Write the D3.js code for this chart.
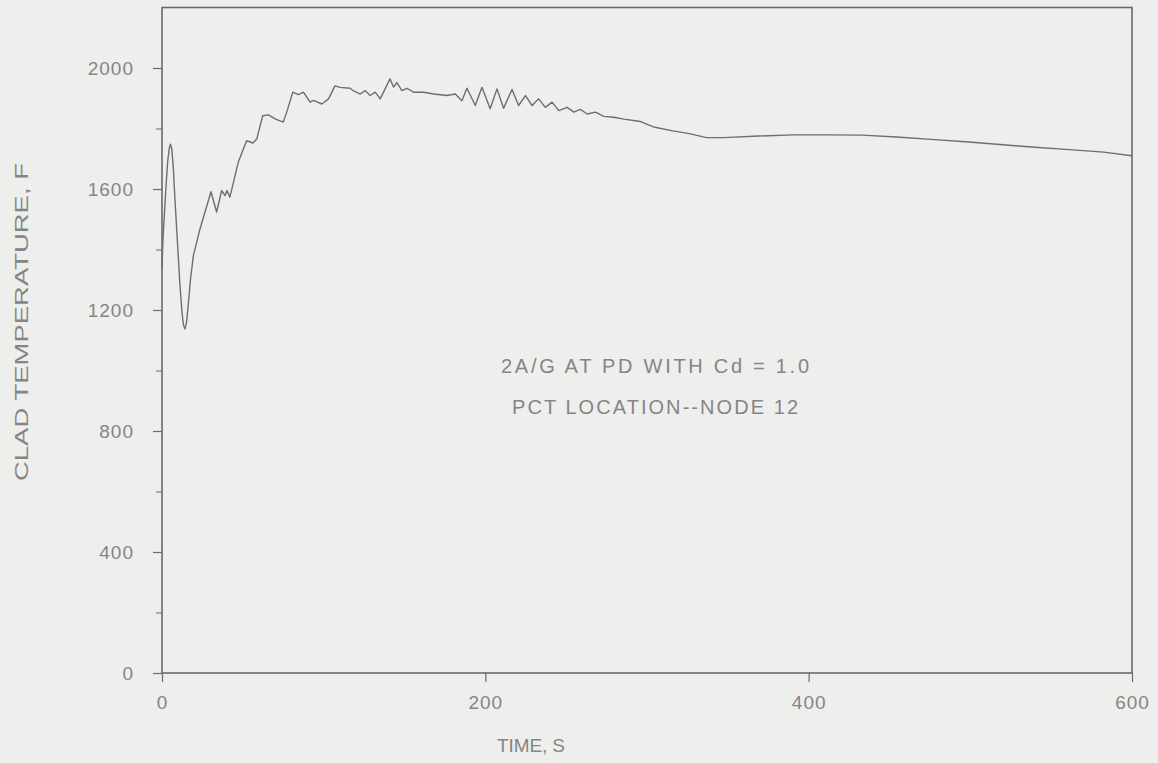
<!DOCTYPE html>
<html>
<head>
<meta charset="utf-8">
<script src="https://cdn.jsdelivr.net/npm/d3@7"></script>
<style>
  html, body { margin: 0; padding: 0; background: #eeeeec; }
  svg { display: block; }
  text { font-family: "Liberation Sans", Arial, Helvetica, sans-serif; fill: #858585; }
</style>
</head>
<body>
<svg id="chart" width="1158" height="763"></svg>
<script>
// Clad temperature history at the peak-cladding-temperature node
const timeS = [0, 0.5, 1.5, 2.5, 3.5, 4.5, 5.2, 6, 7, 8, 9.5, 11, 12.4, 13.3, 14.2, 15.2, 16.3,
  17.6, 19.4, 23.5,
  30.3, 33.8, 36.9, 39, 40.2, 42, 47.2, 52.4, 56.2, 58.6, 62.3, 65.8, 70, 75, 77.2, 80.9,
  84.4, 87.5, 91.6, 93.8, 98.9, 103, 107, 110.2, 116.4, 118.3, 122.6, 125.7, 128.8, 131.9,
  135, 138, 141, 143.2, 145.3, 148.4, 151.5, 155.6, 161.8, 168, 176.3, 181.4, 185.5, 188.6,
  193.8, 197.9, 203, 207.2, 211.3, 216.5, 220.6, 224.8, 228.9, 233, 237.1, 241.3, 245.4,
  250.6, 254.7, 258.8, 263, 268.1, 273.3, 279.5, 285.7, 296, 304.8, 316, 326.2, 336.8,
  347.6, 369, 390.3, 411.7, 433, 454.5, 475.7, 497, 518.4, 539.8, 561.2, 582.5, 600];
const cladTempF = [1340, 1420, 1520, 1610, 1690, 1735, 1748, 1735, 1670, 1567, 1430, 1290,
  1190, 1150, 1137, 1160, 1220, 1300, 1380, 1468, 1591, 1524, 1595, 1578, 1595, 1573, 1689,
  1760, 1752, 1765, 1842, 1845, 1832, 1821, 1855, 1920, 1912, 1920, 1887, 1893, 1881, 1898,
  1941, 1936, 1933, 1925, 1914, 1925, 1909, 1920, 1898, 1931, 1964, 1937, 1952, 1925, 1933,
  1920, 1920, 1914, 1909, 1914, 1892, 1933, 1876, 1936, 1865, 1931, 1867, 1929, 1876, 1909,
  1876, 1898, 1870, 1887, 1859, 1870, 1854, 1863, 1848, 1854, 1840, 1837, 1831, 1823, 1804,
  1792, 1783, 1770, 1770, 1775, 1779, 1779, 1778, 1772, 1764, 1756, 1747, 1738, 1730, 1722,
  1710];

const xTicks = [0, 200, 400, 600];
const yTicks = [0, 400, 800, 1200, 1600, 2000];
const yMinorTicks = [200, 600, 1000, 1400, 1800];
const annotationLines = ["2A/G AT PD WITH Cd = 1.0", "PCT LOCATION--NODE 12"];
const xTitle = "TIME, S";
const yTitle = "CLAD TEMPERATURE, F";

const svg = d3.select("#chart");
const margin = { left: 162, right: 26, top: 7.5, bottom: 90 };
const W = 1158, H = 763;

const x = d3.scaleLinear().domain([0, 600]).range([margin.left, W - margin.right]);
const y = d3.scaleLinear().domain([0, 2200]).range([H - margin.bottom, margin.top]);

const axisColor = "#6a6a6a";

// plot frame
svg.append("rect")
  .attr("x", x(0)).attr("y", y(2200))
  .attr("width", x(600) - x(0)).attr("height", y(0) - y(2200))
  .attr("fill", "none").attr("stroke", axisColor).attr("stroke-width", 1.6);

// left axis
const gy = svg.append("g").attr("transform", `translate(${x(0)},0)`)
  .call(d3.axisLeft(y).tickValues(yTicks).tickSize(9).tickPadding(19).tickFormat(d3.format("d")));
gy.select(".domain").remove();
gy.selectAll(".tick line").attr("stroke", axisColor).attr("stroke-width", 1.2);
gy.selectAll(".tick text").attr("fill", "#858585").attr("font-size", 19)
  .style("letter-spacing", "1px").attr("font-family", null);

svg.append("g").attr("transform", `translate(${x(0)},0)`)
  .call(d3.axisLeft(y).tickValues(yMinorTicks).tickSize(6).tickFormat(""))
  .call(g => g.select(".domain").remove())
  .selectAll(".tick line").attr("stroke", axisColor).attr("stroke-width", 1);

// bottom axis
const gx = svg.append("g").attr("transform", `translate(0,${y(0)})`)
  .call(d3.axisBottom(x).tickValues(xTicks).tickSize(9).tickPadding(14).tickFormat(d3.format("d")));
gx.select(".domain").remove();
gx.selectAll(".tick line").attr("stroke", axisColor).attr("stroke-width", 1.2);
gx.selectAll(".tick text").attr("fill", "#858585").attr("font-size", 19)
  .style("letter-spacing", "1px").attr("font-family", null);

// temperature curve
const pts = timeS.map((t, i) => [t, cladTempF[i]]);
svg.append("path")
  .datum(pts)
  .attr("fill", "none")
  .attr("stroke", "#6e6e6e")
  .attr("stroke-width", 1.4)
  .attr("stroke-linejoin", "round")
  .attr("d", d3.line().x(d => x(d[0])).y(d => y(d[1])));

// annotation
svg.append("text").attr("x", 655).attr("y", 373).attr("text-anchor", "middle")
  .attr("font-size", 20).attr("textLength", 308).attr("lengthAdjust", "spacing")
  .text(annotationLines[0]);
svg.append("text").attr("x", 655).attr("y", 414).attr("text-anchor", "middle")
  .attr("font-size", 20).attr("textLength", 286).attr("lengthAdjust", "spacing")
  .text(annotationLines[1]);

// axis titles
svg.append("text").attr("x", 531).attr("y", 752).attr("text-anchor", "middle")
  .attr("font-size", 19).attr("textLength", 68).attr("lengthAdjust", "spacing")
  .text(xTitle);
svg.append("text")
  .attr("transform", "translate(28,322) rotate(-90)")
  .attr("text-anchor", "middle")
  .attr("font-size", 19).attr("textLength", 318).attr("lengthAdjust", "spacingAndGlyphs")
  .text(yTitle);
</script>
</body>
</html>
